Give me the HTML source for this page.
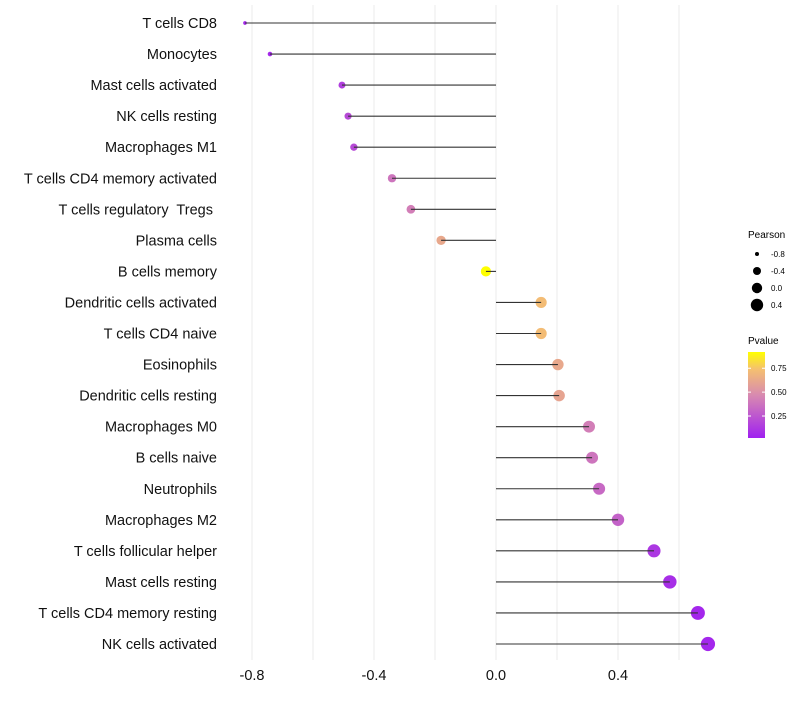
<!DOCTYPE html>
<html><head><meta charset="utf-8"><style>
body{margin:0;background:#fff;font-family:"Liberation Sans",sans-serif}
text{white-space:pre}
</style></head><body>
<svg id="c" width="800" height="700" xmlns="http://www.w3.org/2000/svg" font-family="Liberation Sans, sans-serif">
<defs><linearGradient id="pg" x1="0" y1="1" x2="0" y2="0">
<stop offset="0" stop-color="#A020F0"/><stop offset="0.5" stop-color="#D88AB0"/><stop offset="0.8" stop-color="#F5C070"/><stop offset="1" stop-color="#FFFF00"/></linearGradient></defs>
<g id="grid"></g><g id="dots"></g><g id="marks"></g><g id="labels"></g>
<g>
<text x="748" y="238" font-size="10">Pearson</text><g id="sizeLeg"></g></g>
<g>
<text x="748" y="344" font-size="10">Pvalue</text>
<rect x="748" y="352" width="17" height="86" fill="url(#pg)"/>
<g id="colLeg"></g></g>
</svg>
<script>
const cells=["T cells CD8","Monocytes","Mast cells activated","NK cells resting","Macrophages M1","T cells CD4 memory activated","T cells regulatory  Tregs ","Plasma cells","B cells memory","Dendritic cells activated","T cells CD4 naive","Eosinophils","Dendritic cells resting","Macrophages M0","B cells naive","Neutrophils","Macrophages M2","T cells follicular helper","Mast cells resting","T cells CD4 memory resting","NK cells activated"];
const pearson=[-0.823,-0.741,-0.505,-0.485,-0.466,-0.341,-0.279,-0.180,-0.033,0.148,0.148,0.203,0.207,0.305,0.315,0.338,0.400,0.518,0.570,0.662,0.695];
const pvalue=[0.05,0.06,0.15,0.2,0.2,0.38,0.42,0.62,0.95,0.72,0.72,0.62,0.6,0.42,0.38,0.33,0.3,0.12,0.08,0.05,0.05];
const xTicks=[-0.8,-0.4,0.0,0.4];
const sizeLegVals=[-0.8,-0.4,0.0,0.4];
const colLegVals=[0.25,0.5,0.75];
const NS="http://www.w3.org/2000/svg";
const X=v=>496+v*305;
const Y=i=>23+i*31.05;
const RK=[[-0.85,1.6],[-0.8,2],[-0.4,4],[0,5.2],[0.4,6.2],[0.8,7.4]];
function R(v){for(let k=1;k<RK.length;k++){if(v<=RK[k][0]){const a=RK[k-1],b=RK[k];return a[1]+(b[1]-a[1])*(v-a[0])/(b[0]-a[0]);}}return 7.4;}
const P=p=>438-(p-0.02)/0.9*86;
function lerp(a,b,t){return a.map((x,i)=>Math.round(x+(b[i]-x)*t));}
const stops=[[0,[160,32,240]],[0.5,[216,138,176]],[0.8,[245,192,112]],[1,[255,255,0]]];
function col(p){let t=Math.min(1,Math.max(0,(p-0.02)/0.9));for(let k=1;k<stops.length;k++){if(t<=stops[k][0]){const a=stops[k-1],b=stops[k];const c=lerp(a[1],b[1],(t-a[0])/(b[0]-a[0]));return `rgb(${c})`;}}return 'rgb(255,255,0)';}
function mk(tag,at,par){const e=document.createElementNS(NS,tag);for(const k in at)e.setAttribute(k,at[k]);document.getElementById(par).appendChild(e);return e;}
[-0.8,-0.6,-0.4,-0.2,0,0.2,0.4,0.6].forEach(v=>{const l=mk('line',{x1:X(v),x2:X(v),y1:5,y2:660,stroke:'#ebebeb','stroke-width':1},'grid');

});
xTicks.forEach(v=>{const t=mk('text',{x:X(v),y:680,'font-size':14.5,'text-anchor':'middle',fill:'#111'},'labels');t.textContent=v.toFixed(1);

});
cells.forEach((c,i)=>{const y=Y(i);
const t=mk('text',{x:217,y:y+5,'font-size':14.5,'text-anchor':'end',fill:'#111'},'labels');t.textContent=c;


const d=mk('circle',{cx:X(pearson[i]),cy:y,r:R(pearson[i]),fill:col(pvalue[i])},'dots');


const l=mk('line',{x1:X(0),x2:X(pearson[i]),y1:y,y2:y,stroke:'#333','stroke-width':1.1},'marks');

});
sizeLegVals.forEach((v,k)=>{const y=254+k*17;
const d=mk('circle',{cx:757,cy:y,r:R(v),fill:'#000'},'sizeLeg');


const t=mk('text',{x:771,y:y+3,'font-size':8},'sizeLeg');t.textContent=v.toFixed(1);

});
colLegVals.forEach(v=>{const y=P(v);
const l=mk('line',{x1:748,x2:751,y1:y,y2:y,stroke:'#fff'},'colLeg');


const l2=mk('line',{x1:762,x2:765,y1:y,y2:y,stroke:'#fff'},'colLeg');


const t=mk('text',{x:771,y:y+3,'font-size':8},'colLeg');t.textContent=v.toFixed(2);

});
</script>
</body></html>
